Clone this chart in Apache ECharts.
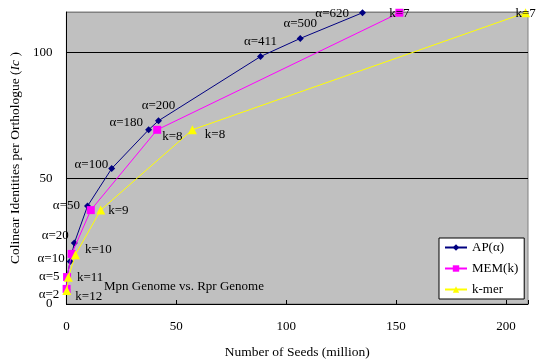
<!DOCTYPE html>
<html><head><meta charset="utf-8">
<script src="https://cdn.jsdelivr.net/npm/echarts@6/dist/echarts.min.js"></script>
<style>html,body{margin:0;padding:0;background:#fff}#c{width:540px;height:364px}</style>
</head><body><div id="c"></div>
<script>
// ---- data ----
const apAlpha = [2, 5, 10, 20, 50, 100, 180, 200, 411, 500, 620];
const apX = [0.2, 0.3, 1.7, 3.6, 9.6, 20.6, 37.4, 41.9, 88.3, 106.4, 134.7];
const apY = [5.7, 10.8, 16.9, 24.2, 38.9, 53.8, 69.2, 72.8, 98.3, 105.5, 115.7];
const memK = [12, 11, 10, 9, 8, 7];
const memX = [0.1, 0.3, 2.4, 11.1, 41.3, 151.5];
const memY = [6.0, 10.7, 19.9, 37.3, 69.2, 115.7];
const kmerK = [12, 11, 10, 9, 8, 7];
const kmerX = [0.2, 0.9, 4.1, 15.6, 57.3, 208.9];
const kmerY = [5.4, 10.6, 19.6, 37.3, 69.2, 115.7];
const seriesNames = ['AP(α)', 'MEM(k)', 'k-mer'];
const xTicks = [0, 50, 100, 150, 200];
const yTicks = [0, 50, 100];

// ---- label placement (style) ----
const apLabelPos = [
  {position:'left', distance:4, offset:[0,5]},
  {position:'left', distance:4, offset:[0,0]},
  {position:'left', distance:2, offset:[0,-3]},
  {position:'left', distance:2, offset:[0,-8]},
  {position:'left', distance:4, offset:[0,-1]},
  {position:'left', distance:0, offset:[0,-4]},
  {position:'left', distance:2, offset:[0,-7]},
  {position:'top', distance:5, offset:[0,0]},
  {position:'top', distance:5, offset:[0,0]},
  {position:'top', distance:5, offset:[0,0]},
  {position:'left', distance:10, offset:[0,1]}
];
const memLabelPos = [null, null, null, null,
  {position:'right', distance:1, offset:[0,7]},
  {position:'inside', distance:0, offset:[0,1]}
];
const kmerLabelPos = [
  {position:'right', distance:4, offset:[0,6]},
  {position:'right', distance:4, offset:[0,0]},
  {position:'right', distance:5, offset:[0,-5]},
  {position:'right', distance:3, offset:[0,0]},
  {position:'right', distance:8, offset:[0,5]},
  {position:'inside', distance:0, offset:[0,1]}
];

const FONT = '"Liberation Serif","Times New Roman",serif';
const lblBase = {show:true, color:'#000', fontFamily:FONT, fontSize:13};

function build(xs, ys, names, prefix, placement) {
  return xs.map((x, i) => {
    const p = placement[i];
    const d = {value:[x, ys[i]], name: prefix + names[i]};
    if (p) {
      d.label = Object.assign({}, lblBase, p, {formatter: prefix + names[i]});
    } else {
      d.label = {show:false};
    }
    return d;
  });
}

const chart = echarts.init(document.getElementById('c'), null, {renderer:'canvas'});
chart.setOption({
  animation:false,
  backgroundColor:'#fff',
  grid:{left:62, right:12, top:12, bottom:60, show:true, backgroundColor:'#C0C0C0', borderColor:'#808080', borderWidth:1},
  xAxis:{
    type:'value', min:0, max:210, interval:50,
    name:'Number of Seeds (million)', nameLocation:'middle', nameGap:41,
    nameTextStyle:{fontFamily:FONT, fontSize:13.5, color:'#000'},
    axisLine:{show:true, onZero:false, lineStyle:{color:'#000', width:1}},
    axisTick:{show:true, inside:true, length:4, lineStyle:{color:'#000'}},
    splitLine:{show:false},
    axisLabel:{fontFamily:FONT, fontSize:13, color:'#000', margin:16,
      formatter:v => xTicks.indexOf(v) >= 0 ? String(v) : ''}
  },
  yAxis:{
    type:'value', min:0, max:116, interval:50,
    name:'{n|Colinear Identities per Orthologue (}{i|Ic}{n| )}', nameLocation:'middle', nameGap:42,
    nameTextStyle:{fontFamily:FONT, fontSize:13.5, color:'#000',
      rich:{n:{fontFamily:FONT, fontSize:13.5, color:'#000'}, i:{fontFamily:FONT, fontSize:13.5, fontStyle:'italic', color:'#000'}}},
    axisLine:{show:true, lineStyle:{color:'#000', width:1}},
    axisTick:{show:false},
    splitLine:{show:true, lineStyle:{color:['#000','#000','#000','#808080'], width:1}},
    axisLabel:{fontFamily:FONT, fontSize:13, color:'#000', margin:14,
      formatter:v => yTicks.indexOf(v) >= 0 ? String(v) : ''}
  },
  legend:{
    orient:'vertical', left:439, top:238, padding:[3,6,3,5], itemGap:8,
    itemWidth:22, itemHeight:8,
    backgroundColor:'#fff', borderColor:'#000', borderWidth:1, borderRadius:0,
    textStyle:{fontFamily:FONT, fontSize:13, color:'#000'},
    data:seriesNames
  },
  series:[
    {name:seriesNames[0], type:'line', symbol:'diamond', symbolSize:7,
     itemStyle:{color:'#000080'}, lineStyle:{color:'#000080', width:1},
     data: build(apX, apY, apAlpha, 'α=', apLabelPos), z:3},
    {name:seriesNames[1], type:'line', symbol:'rect', symbolSize:8,
     itemStyle:{color:'#FF00FF'}, lineStyle:{color:'#FF00FF', width:1},
     data: build(memX, memY, memK, 'k=', memLabelPos), z:4},
    {name:seriesNames[2], type:'line', symbol:'triangle', symbolSize:9,
     itemStyle:{color:'#FFFF00'}, lineStyle:{color:'#FFFF00', width:1},
     data: build(kmerX, kmerY, kmerK, 'k=', kmerLabelPos), z:5}
  ],
  graphic:[
    {type:'text', left:104, top:280, z:10,
     style:{text:'Mpn Genome vs. Rpr Genome', font:'13px ' + FONT, fill:'#000'}}
  ]
});
</script></body></html>
